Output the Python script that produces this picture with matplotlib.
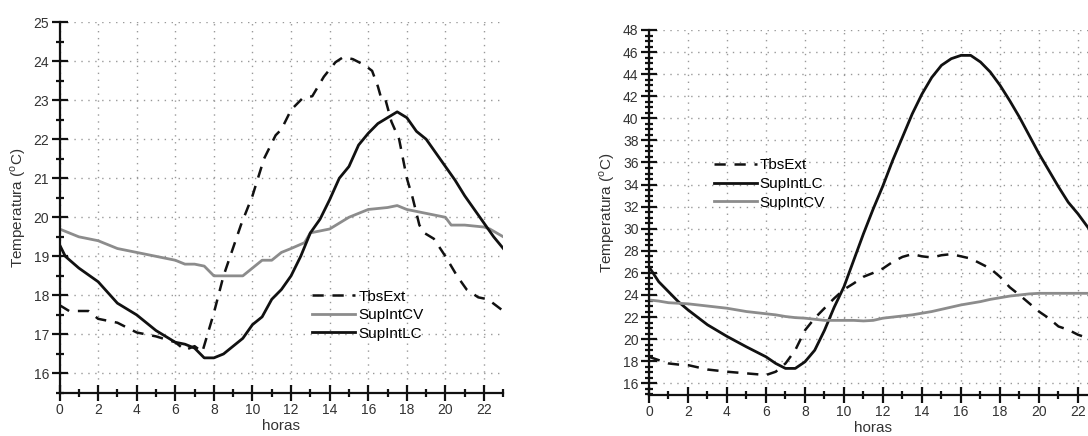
import matplotlib
matplotlib.use("Agg")
import matplotlib.pyplot as plt
from matplotlib.ticker import MultipleLocator

plt.rcParams['font.family'] = ['Liberation Sans', 'DejaVu Sans']
plt.rcParams['mathtext.fontset'] = 'custom'
plt.rcParams['mathtext.rm'] = 'Liberation Sans'

# ---------------- Left chart data ----------------
hours_l_ext = [0, 0.5, 1.5, 2, 3, 4, 5, 6, 6.5, 7, 7.4, 8, 8.5, 9.4, 10, 10.6, 11.2, 11.5, 12,
               12.6, 13.1, 13.7, 14.3, 14.7, 15.2, 15.8, 16.2, 16.5, 16.7, 16.9, 17.2, 17.6,
               18, 18.3, 18.65, 18.9, 19.4, 20, 20.6, 21.1, 21.7, 22.2, 23]
tbsext_l = [17.75, 17.6, 17.6, 17.4, 17.3, 17.05, 16.95, 16.8, 16.6, 16.7, 16.55, 17.55, 18.5,
            19.8, 20.55, 21.5, 22.1, 22.25, 22.75, 23.05, 23.1, 23.6, 23.97, 24.1, 24.05, 23.9,
            23.75, 23.35, 23.0, 23.0, 22.45, 22.0, 21.0, 20.5, 19.8, 19.6, 19.45, 19.0, 18.5,
            18.15, 17.95, 17.9, 17.6]

hours_l_cv = [0, 0.5, 1, 2, 3, 4, 5, 6, 6.5, 7, 7.5, 8, 9, 9.5, 10, 10.5, 11, 11.5, 12, 12.7,
              13, 14, 14.5, 15, 16, 17, 17.5, 18, 19, 20, 20.3, 21, 22, 22.3, 23]
supintcv_l = [19.7, 19.6, 19.5, 19.4, 19.2, 19.1, 19.0, 18.9, 18.8, 18.8, 18.75, 18.5, 18.5,
              18.5, 18.7, 18.9, 18.9, 19.1, 19.2, 19.35, 19.6, 19.7, 19.85, 20.0, 20.2, 20.25,
              20.3, 20.2, 20.1, 20.0, 19.8, 19.8, 19.75, 19.7, 19.5]

hours_l_lc = [0, 0.3, 1, 2, 3, 4, 5, 6, 6.5, 7, 7.5, 8, 8.5, 9, 9.5, 10, 10.5, 11, 11.5, 12,
              12.5, 13, 13.5, 14, 14.5, 15, 15.5, 16, 16.5, 17, 17.5, 18, 18.5, 19, 19.5, 20,
              20.5, 21, 21.5, 22, 22.5, 23]
supintlc_l = [19.3, 19.0, 18.7, 18.35, 17.8, 17.5, 17.1, 16.8, 16.75, 16.65, 16.4, 16.4, 16.5,
              16.7, 16.9, 17.25, 17.45, 17.9, 18.15, 18.5, 19.0, 19.6, 19.95, 20.45, 21.0, 21.3,
              21.85, 22.15, 22.4, 22.55, 22.7, 22.55, 22.2, 22.0, 21.65, 21.3, 20.95, 20.55,
              20.2, 19.85, 19.5, 19.2]

# ---------------- Right chart data ----------------
hours_r = [0, 0.5, 1, 1.5, 2, 3, 4, 5, 6, 6.5, 7, 7.5, 8, 8.5, 9, 9.5, 10, 10.5, 11, 11.5, 12,
           12.5, 13, 13.5, 14, 14.5, 15, 15.5, 16, 16.5, 17, 17.5, 18, 18.5, 19, 19.5, 20,
           20.5, 21, 21.5, 22, 22.5, 23]
tbsext_r = [18.4, 18.1, 17.8, 17.7, 17.65, 17.25, 17.05, 16.9, 16.75, 17.05, 17.8, 19.0, 20.8,
            21.9, 22.8, 23.7, 24.5, 25.05, 25.65, 26.0, 26.4, 27.0, 27.45, 27.7, 27.5, 27.4,
            27.6, 27.7, 27.5, 27.3, 26.85, 26.4, 25.65, 24.7, 24.0, 23.25, 22.5, 21.9, 21.15,
            20.85, 20.4, 20.1, 19.8]
supintlc_r = [26.55, 25.2, 24.3, 23.4, 22.65, 21.3, 20.25, 19.3, 18.4, 17.8, 17.35, 17.35,
              17.95, 19.0, 20.8, 22.9, 24.75, 27.15, 29.55, 31.8, 33.9, 36.2, 38.3, 40.4, 42.2,
              43.7, 44.8, 45.4, 45.7, 45.7, 45.1, 44.2, 43.0, 41.6, 40.1, 38.45, 36.8, 35.3,
              33.8, 32.4, 31.35, 30.15, 29.0]
supintcv_r = [23.55, 23.45, 23.3, 23.25, 23.2, 23.0, 22.8, 22.5, 22.3, 22.2, 22.05, 21.95, 21.9,
              21.8, 21.7, 21.7, 21.7, 21.7, 21.65, 21.7, 21.9, 22.0, 22.1, 22.2, 22.35, 22.5,
              22.7, 22.9, 23.1, 23.25, 23.4, 23.6, 23.75, 23.9, 24.0, 24.1, 24.15, 24.15, 24.15,
              24.15, 24.15, 24.15, 24.15]

BLACK = '#111111'
GRAY = '#8c8c8c'
TXT = '#333333'
FS = 10

fig = plt.figure(figsize=(10.88, 4.36), dpi=100)
axL = fig.add_axes([0.0547, 0.0986, 0.4079, 0.8509])
axR = fig.add_axes([0.5965, 0.094, 0.4122, 0.8372])


def style(ax, ylim, ymaj, ymin_step):
    ax.set_xlim(0, 23)
    ax.set_ylim(*ylim)
    ax.xaxis.set_major_locator(MultipleLocator(2))
    ax.xaxis.set_minor_locator(MultipleLocator(1))
    ax.yaxis.set_major_locator(MultipleLocator(ymaj))
    ax.yaxis.set_minor_locator(MultipleLocator(ymin_step))
    for s in ['top', 'right']:
        ax.spines[s].set_visible(False)
    for s in ['left', 'bottom']:
        ax.spines[s].set_linewidth(1.6)
        ax.spines[s].set_color(BLACK)
    ax.tick_params(which='major', direction='inout', length=11, width=1.6,
                   color=BLACK, labelsize=FS, labelcolor=TXT, pad=2)
    ax.tick_params(which='minor', direction='inout', length=6, width=1.6, color=BLACK)
    ax.grid(True, which='major', linestyle=(0, (1, 4)), color='#999999', linewidth=1.0)
    ax.set_axisbelow(True)
    ax.set_xlabel('horas', fontsize=FS + 1, color=TXT, labelpad=1)
    ax.set_ylabel('Temperatura ($^{\\mathrm{o}}$C)', fontsize=FS + 1, color=TXT, labelpad=4)


style(axL, (15.5, 25), 1, 0.5)
style(axR, (14.94, 48), 2, 0.5)

DASH = (0, (4.5, 3.5))
axL.plot(hours_l_ext, tbsext_l, color=BLACK, lw=1.8, ls=DASH, label='TbsExt')
axL.plot(hours_l_cv, supintcv_l, color=GRAY, lw=2.0, label='SupIntCV')
axL.plot(hours_l_lc, supintlc_l, color=BLACK, lw=2.0, label='SupIntLC')
axL.legend(loc='center left', bbox_to_anchor=(0.57, 0.21), frameon=False, fontsize=FS + 1,
           handlelength=2.8, handletextpad=0.2, labelspacing=0.3, borderpad=0, borderaxespad=0)

axR.plot(hours_r, tbsext_r, color=BLACK, lw=1.8, ls=DASH, label='TbsExt')
axR.plot(hours_r, supintlc_r, color=BLACK, lw=2.0, label='SupIntLC')
axR.plot(hours_r, supintcv_r, color=GRAY, lw=2.0, label='SupIntCV')
axR.legend(loc='center left', bbox_to_anchor=(0.145, 0.578), frameon=False, fontsize=FS + 1,
           handlelength=2.8, handletextpad=0.2, labelspacing=0.3, borderpad=0, borderaxespad=0)

fig.savefig('out.png', dpi=100)
